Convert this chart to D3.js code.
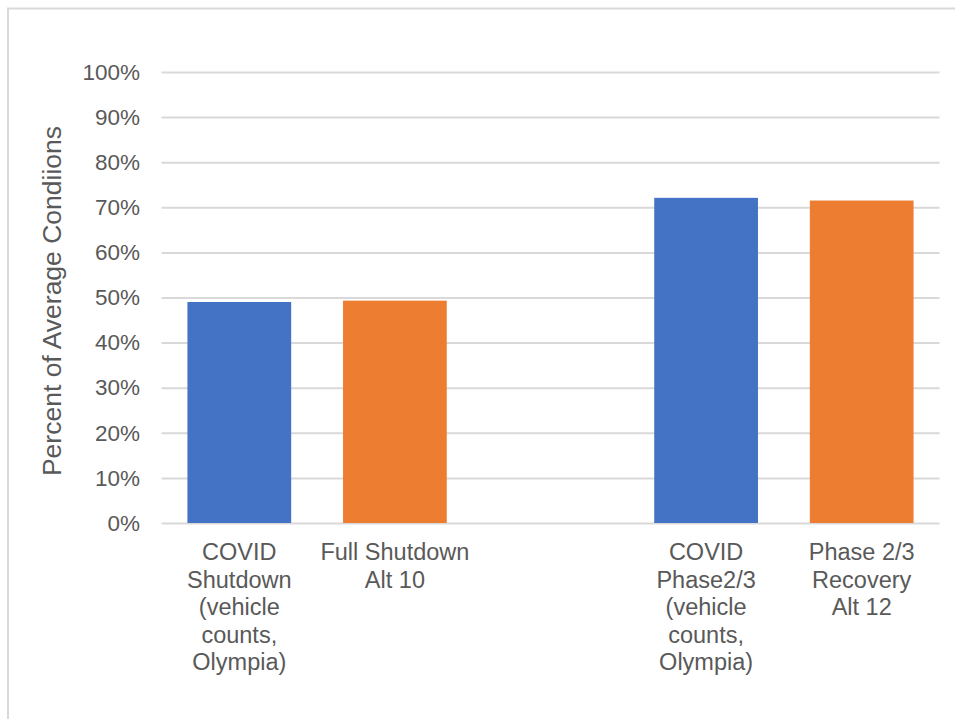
<!DOCTYPE html>
<html>
<head>
<meta charset="utf-8">
<script src="https://cdnjs.cloudflare.com/ajax/libs/d3/7.8.5/d3.min.js"></script>
<style>
  body { margin: 0; background: #fff; }
  svg { display: block; font-family: "Liberation Sans", Arial, sans-serif; }
  .tick text { fill: #595959; }
</style>
</head>
<body>
<svg id="chart" width="955" height="719"></svg>
<script>
// categories (the empty slot in the middle separates the two groups)
var categoryLines = [
  ["COVID", "Shutdown", "(vehicle", "counts,", "Olympia)"],
  ["Full Shutdown", "Alt 10"],
  [],
  ["COVID", "Phase2/3", "(vehicle", "counts,", "Olympia)"],
  ["Phase 2/3", "Recovery", "Alt 12"]
];
var values = [0.490, 0.493, null, 0.721, 0.715];
var barType = ["counts", "model", null, "counts", "model"];
var yTicks = [0, 0.1, 0.2, 0.3, 0.4, 0.5, 0.6, 0.7, 0.8, 0.9, 1.0];
var yTitle = "Percent of Average Condiions";

var colors = { counts: "#4472C4", model: "#ED7D31" };

var svg = d3.select("#chart");

// light frame on the left and top
svg.append("line").attr("x1", 8).attr("x2", 8).attr("y1", 8).attr("y2", 719)
  .attr("stroke", "#d9d9d9").attr("stroke-width", 2);
svg.append("line").attr("x1", 7).attr("x2", 955).attr("y1", 8.5).attr("y2", 8.5)
  .attr("stroke", "#d9d9d9").attr("stroke-width", 2);

var plotLeft = 161.5, plotRight = 939.5, plotTop = 72, plotBottom = 523;

var x = d3.scaleBand()
  .domain(d3.range(categoryLines.length))
  .range([plotLeft, plotRight])
  .paddingInner(1 / 3)
  .paddingOuter(1 / 6);

var y = d3.scaleLinear().domain([0, 1]).range([plotBottom, plotTop]);

// gridlines
var grid = svg.append("g")
  .attr("transform", "translate(" + plotLeft + ",0)")
  .call(d3.axisLeft(y).tickValues(yTicks).tickSize(-(plotRight - plotLeft)).tickFormat(""));
grid.select(".domain").remove();
grid.selectAll(".tick line").attr("stroke", "#d9d9d9").attr("stroke-width", 2);

// y tick labels
var yAxis = svg.append("g")
  .attr("transform", "translate(140,0)")
  .call(d3.axisLeft(y).tickValues(yTicks).tickSize(0).tickPadding(0).tickFormat(d3.format(".0%")));
yAxis.select(".domain").remove();
yAxis.selectAll("text").attr("font-size", 22.5).attr("font-family", "Liberation Sans, Arial, sans-serif");

// bars
svg.append("g").selectAll("rect")
  .data(values.map(function (v, i) { return { v: v, i: i }; }).filter(function (d) { return d.v != null; }))
  .enter().append("rect")
  .attr("x", function (d) { return x(d.i); })
  .attr("width", x.bandwidth())
  .attr("y", function (d) { return y(d.v); })
  .attr("height", function (d) { return y(0) - y(d.v); })
  .attr("fill", function (d) { return colors[barType[d.i]]; });

// x labels
var xAxis = svg.append("g")
  .attr("transform", "translate(0," + plotBottom + ")")
  .call(d3.axisBottom(x).tickSize(0).tickFormat(""));
xAxis.select(".domain").remove();
xAxis.selectAll(".tick").each(function (d) {
  var t = d3.select(this).select("text")
    .attr("y", 0).attr("dy", null)
    .attr("font-size", 23.5)
    .attr("font-family", "Liberation Sans, Arial, sans-serif");
  categoryLines[d].forEach(function (line, k) {
    t.append("tspan").attr("x", 0).attr("y", 37 + k * 27.5).text(line);
  });
});

// y title
svg.append("text")
  .attr("transform", "translate(61,301) rotate(-90)")
  .attr("text-anchor", "middle")
  .attr("font-size", 26.5)
  .attr("fill", "#595959")
  .text(yTitle);
</script>
</body>
</html>
